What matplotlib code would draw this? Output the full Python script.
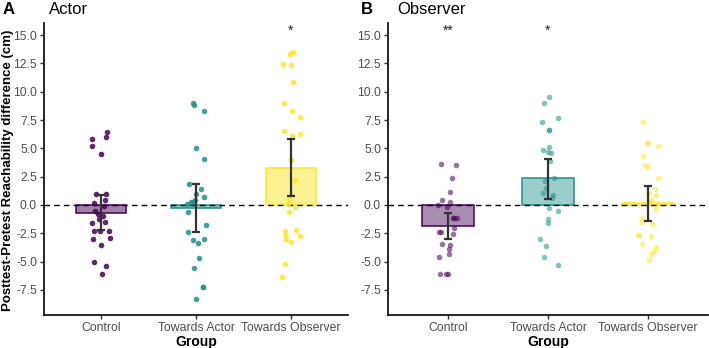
import matplotlib
matplotlib.use("Agg")
import matplotlib.pyplot as plt
import numpy as np

plt.rcParams['font.family'] = ['Liberation Sans', 'DejaVu Sans']
plt.rcParams['axes.unicode_minus'] = False

groups = ["Control", "Towards Actor", "Towards Observer"]
colors = ["#440154", "#21908C", "#FDE725"]

# ---- Panel A: Actor ----
actor_control_y = [6.47, 5.82, 5.97, 5.18, 4.47, 0.97, 1.0, 0.15, 0.44, -0.09, -0.5, -0.82,
                   -0.94, -1.2, -1.56, -1.47, -2.27, -2.27, -2.32, -3.0, -2.91, -3.5, -5.03, -5.38, -6.06]
actor_control_dx = [0.06, -0.09, 0.05, -0.09, 0.00, -0.05, 0.05, -0.07, 0.04, 0.03, -0.06, -0.03,
                    0.02, -0.02, -0.09, 0.04, -0.07, -0.01, 0.08, -0.08, 0.09, 0.00, -0.07, 0.05, 0.01]
actor_tact_y = [8.97, 8.82, 8.29, 5.0, 4.09, 1.85, 1.44, 0.94, 0.71, 0.44, 0.24, 0.06, 0.3,
                -0.59, -1.79, -2.38, -3.09, -2.97, -3.32, -4.71, -5.53, -7.21, -7.21, -8.29]
actor_tact_dx = [-0.03, -0.02, 0.08, 0.00, 0.08, -0.07, 0.05, 0.00, 0.08, -0.01, -0.05, -0.09, -0.03,
                 -0.08, 0.10, -0.08, -0.03, 0.08, 0.02, 0.03, -0.02, 0.07, 0.07, 0.00]
actor_tobs_y = [13.5, 13.3, 12.44, 12.33, 10.83, 8.97, 8.32, 7.76, 6.5, 6.06, 6.24, 4.0,
                2.21, 0.5, 0.06, -0.15, -0.65, -2.29, -2.24, -2.68, -2.71, -3.0, -3.29, -5.18, -6.35]
actor_tobs_dx = [0.02, -0.01, -0.08, -0.00, 0.02, -0.07, 0.01, 0.09, -0.07, 0.01, 0.09, 0.00,
                 0.04, -0.02, -0.03, 0.04, -0.02, -0.06, 0.05, -0.06, 0.09, -0.05, -0.00, -0.06, -0.09]
actor_mean = [-0.67, -0.25, 3.3]
actor_ci_low = [-2.2, -2.41, 0.79]
actor_ci_high = [0.88, 1.88, 5.79]
actor_sig = ["", "", "*"]

# ---- Panel B: Observer ----
obs_control_y = [3.65, 3.5, 2.35, 1.15, 0.41, 0.29, -0.03, -0.2, -1.12, -1.18, -1.18, -2.06,
                 -2.41, -2.41, -2.59, -3.44, -3.53, -3.91, -4.32, -4.56, -6.06, -6.09, -6.09]
obs_control_dx = [-0.07, 0.08, 0.04, 0.02, -0.06, 0.02, -0.10, -0.01, 0.09, 0.06, 0.05, 0.06,
                  -0.09, -0.07, 0.05, -0.06, 0.02, 0.01, 0.01, -0.09, -0.08, -0.02, 0.00]
obs_tact_y = [9.56, 8.97, 7.65, 7.35, 6.62, 6.62, 5.09, 4.85, 4.71, 4.62, 3.88, 2.35, 2.15,
              1.47, 1.03, 0.88, 0.6, -0.26, -0.53, -1.26, -1.56, -3.03, -3.62, -4.56, -5.29]
obs_tact_dx = [0.01, -0.04, 0.10, -0.06, 0.01, 0.01, 0.01, -0.05, 0.00, 0.03, 0.02, 0.06, -0.03,
               -0.02, -0.05, 0.05, 0.04, 0.01, 0.10, -0.00, 0.00, -0.08, -0.02, -0.04, 0.10]
obs_tobs_y = [7.35, 5.44, 5.44, 5.24, 4.32, 3.5, 3.38, 2.41, 1.41, 1.06, 0.88, 0.44, 0.3,
              -0.24, -1.18, -1.5, -1.7, -2.68, -2.62, -2.76, -3.44, -3.68, -4.03, -4.32, -4.85]
obs_tobs_dx = [-0.05, -0.01, 0.00, 0.10, -0.05, -0.03, 0.00, 0.10, 0.07, 0.00, 0.08, 0.03, 0.02,
               0.08, -0.06, -0.06, 0.05, -0.10, -0.09, 0.03, -0.06, 0.08, 0.06, 0.03, 0.01]
obs_mean = [-1.85, 2.35, 0.15]
obs_ci_low = [-3.0, 0.56, -1.38]
obs_ci_high = [-0.68, 4.06, 1.66]
obs_sig = ["**", "*", ""]

y_ticks = [-7.5, -5.0, -2.5, 0.0, 2.5, 5.0, 7.5, 10.0, 12.5, 15.0]

fig = plt.figure(figsize=(7.09, 3.48), dpi=100)
W, H = 709, 348
axA = fig.add_axes([44 / W, 1 - 315 / H, 304 / W, (315 - 22.7) / H])
axB = fig.add_axes([388 / W, 1 - 315 / H, 320 / W, (315 - 22.7) / H])


def draw(ax, ys, dxs, mean, lo, hi, sig, pt_alpha, bar_alpha):
    x = np.arange(1, 4)
    for i in range(3):
        ax.bar(x[i], mean[i], width=0.52, color=colors[i], alpha=bar_alpha, zorder=2,
               linewidth=0)
        ax.bar(x[i], mean[i], width=0.52, facecolor="none", edgecolor=colors[i],
               linewidth=1.1, zorder=2)
    ax.axhline(0, color="black", linestyle=(0, (4, 3)), linewidth=1.0, zorder=3)
    for i in range(3):
        ax.scatter(x[i] + np.array(dxs[i]), ys[i], s=16, color=colors[i], alpha=pt_alpha,
                   linewidths=0, zorder=4)
    for i in range(3):
        ax.errorbar(x[i], mean[i], yerr=[[mean[i] - lo[i]], [hi[i] - mean[i]]], fmt="none",
                    ecolor="#333333", elinewidth=1.6, capsize=3.2, capthick=1.6, zorder=5)
        if sig[i]:
            ax.text(x[i], 14.8, sig[i], ha="center", va="bottom", fontsize=10, color="#222222")
    ax.set_xlim(0.4, 3.6)
    ax.set_ylim(-9.71, 16.09)
    ax.set_yticks(y_ticks)
    ax.set_yticklabels([f"{t:.1f}" for t in y_ticks])
    ax.set_xticks(x)
    ax.set_xticklabels(groups)
    for s in ["top", "right"]:
        ax.spines[s].set_visible(False)
    for s in ["left", "bottom"]:
        ax.spines[s].set_linewidth(1.2)
    ax.tick_params(axis="both", labelsize=8.8, colors="#4D4D4D", length=3, width=1.0, pad=2)
    ax.tick_params(axis="both", color="#333333")
    ax.set_xlabel("Group", fontsize=10, fontweight="bold", labelpad=0.5)


draw(axA, [actor_control_y, actor_tact_y, actor_tobs_y],
     [actor_control_dx, actor_tact_dx, actor_tobs_dx],
     actor_mean, actor_ci_low, actor_ci_high, actor_sig, 0.85, 0.5)
draw(axB, [obs_control_y, obs_tact_y, obs_tobs_y],
     [obs_control_dx, obs_tact_dx, obs_tobs_dx],
     obs_mean, obs_ci_low, obs_ci_high, obs_sig, 0.55, 0.45)

fig.text(8 / W, 1 - 170 / H, "Posttest-Pretest Reachability difference (cm)", fontsize=9.5,
         fontweight="bold", rotation=90, ha="center", va="center")

fig.text(3 / W, 1 - 9 / H, "A", fontsize=12, fontweight="bold", va="center", ha="left")
fig.text(49 / W, 1 - 9 / H, "Actor", fontsize=12, va="center", ha="left")
fig.text(361 / W, 1 - 9 / H, "B", fontsize=12, fontweight="bold", va="center", ha="left")
fig.text(397 / W, 1 - 9 / H, "Observer", fontsize=12, va="center", ha="left")

fig.savefig("out.png", dpi=100)
